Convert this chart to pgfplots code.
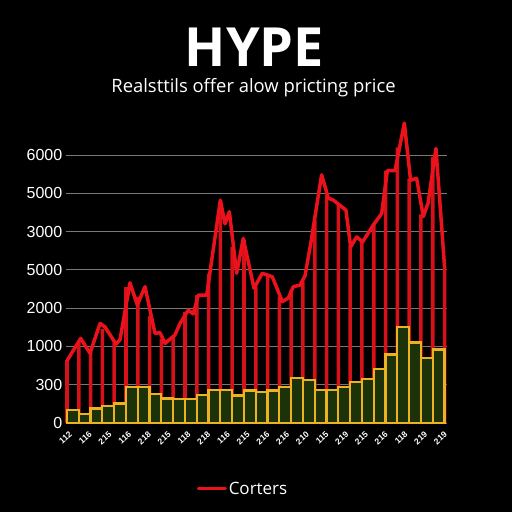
\documentclass[border=0pt]{standalone}
\usepackage{fontspec}
\setmainfont{Liberation Sans}
\newfontfamily\opensans{Open Sans}
\usepackage{pgfplots}
\pgfplotsset{compat=1.18}
\definecolor{redline}{RGB}{235,18,28}
\definecolor{redbar}{RGB}{215,16,26}
\definecolor{yel}{RGB}{236,178,32}
\definecolor{dgreen}{RGB}{28,50,8}
\definecolor{gridgray}{RGB}{120,120,120}
\begin{document}
\begin{tikzpicture}
\fill[black] (0,0) rectangle (512pt,512pt);
\node[white, anchor=base, font=\opensans\bfseries\fontsize{54}{60}\selectfont] at (254.5pt,445.3pt) {HYPE};
\node[white, anchor=base, font=\opensans\fontsize{18.4}{20}\selectfont] at (253.5pt,419.3pt) {Realsttils offer alow pricting price};
\begin{axis}[
  at={(65.82pt,89pt)}, anchor=south west, scale only axis,
  width=381.1pt, height=314pt,
  xmin=-0.1, xmax=32.2, ymin=0, ymax=8.2,
  axis line style={draw=none}, tick style={draw=none},
  major tick length=0pt,
  ymajorgrids, grid style={gridgray, line width=0.9pt},
  ytick={0,...,7}, yticklabels={0,300,1000,2000,5000,3000,5000,6000},
  yticklabel style={white, font=\fontsize{16}{18}\selectfont},
  xtick={0,1.673,3.346,5.019,6.692,8.365,10.038,11.711,13.384,15.057,16.73,18.403,20.076,21.749,23.422,25.095,26.768,28.441,30.114,31.787},
  xticklabels={112,116,215,116,218,215,118,218,116,215,216,216,210,115,219,215,216,118,219,219},
  xticklabel style={white, font=\bfseries\fontsize{8.5}{10}\selectfont, rotate=42, anchor=north east, inner sep=1pt, xshift=-3pt, yshift=-6pt},
  clip=false,
  legend style={at={(0.465,-0.21)}, anchor=center, draw=none, fill=none, text=white, font=\opensans\fontsize{17}{20}\selectfont},
  legend image code/.code={\draw[#1, line width=3pt] (0pt,0pt) -- (27pt,0pt);},
]
\addplot[ybar, bar width=0.3, bar shift=0pt, draw=none, fill=redbar, forget plot] coordinates {
(0,1.64)(1,2.15)(2,1.85)(3,2.45)(4,2.1)(5,3.55)(6,3.3)(7,2.8)(8,2.2)(9,2.25)(10,2.9)(11,3.34)(12,3.9)(13,5.8)(14,4.6)(15,4.78)(16,3.56)(17,3.88)(18,3.3)(19,3.47)(20,3.69)(21,5.3)(22,5.95)(23,5.7)(24,4.62)(25,4.75)(26,5.17)(27,6.59)(28,7.2)(29,6.38)(30,5.45)(31,6.95)(32,4.08)};
\addplot[ybar, bar width=1, bar shift=0pt, draw=yel, fill=dgreen, line width=2.2pt, forget plot] coordinates {
(0.5,0.33)(1.5,0.24)(2.5,0.38)(3.5,0.44)(4.5,0.51)(5.5,0.95)(6.5,0.94)(7.5,0.76)(8.5,0.64)(9.5,0.62)(10.5,0.63)(11.5,0.73)(12.5,0.87)(13.5,0.87)(14.5,0.72)(15.5,0.85)(16.5,0.80)(17.5,0.85)(18.5,0.95)(19.5,1.18)(20.5,1.13)(21.5,0.86)(22.5,0.86)(23.5,0.95)(24.5,1.08)(25.5,1.14)(26.5,1.40)(27.5,1.79)(28.5,2.50)(29.5,2.10)(30.5,1.69)(31.5,1.92)};
\addplot[redline, line width=3.5pt, line join=round, line cap=round] coordinates {
(0.03,1.64)(1.16,2.21)(1.95,1.82)(2.80,2.60)(3.22,2.51)(4.15,2.06)(4.49,2.17)(5.34,3.66)(5.96,3.08)(6.61,3.56)(7.46,2.34)(7.88,2.36)(8.31,2.08)(9.15,2.30)(9.58,2.60)(10.28,2.95)(10.7,2.85)(11.13,3.34)(11.84,3.34)(13.0,5.82)(13.39,5.20)(13.76,5.52)(14.38,3.91)(14.94,4.82)(15.85,3.52)(16.55,3.91)(17.4,3.82)(18.25,3.17)(18.75,3.26)(19.18,3.56)(19.75,3.60)(20.17,3.84)(20.68,4.73)(21.58,6.48)(22.15,5.87)(22.57,5.82)(23.28,5.65)(23.64,5.56)(24.04,4.60)(24.55,4.86)(25.06,4.73)(25.96,5.17)(26.67,5.47)(27.15,6.59)(27.8,6.59)(28.59,7.83)(29.12,6.34)(29.63,6.39)(30.2,5.39)(30.6,5.74)(31.27,7.17)(32.0,4.08)};
\addlegendentry{Corters}
\end{axis}
\end{tikzpicture}
\end{document}
